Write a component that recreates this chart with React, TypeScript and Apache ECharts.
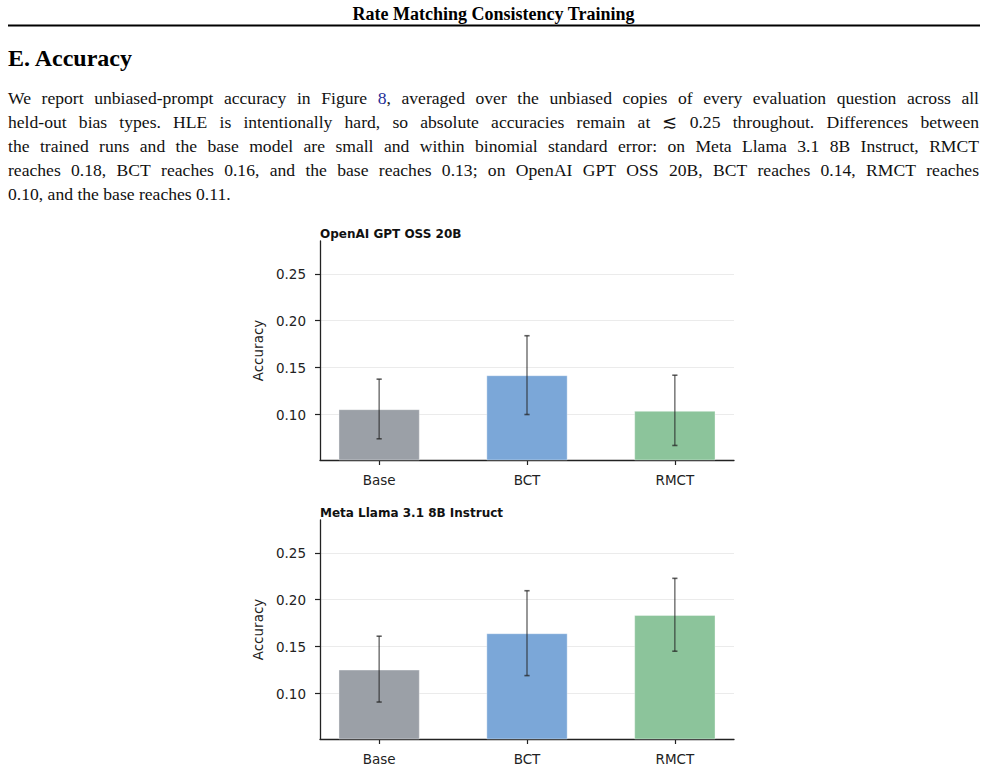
import React, { useEffect, useRef } from "react";
import * as echarts from "echarts";

// ---------- data ----------
const categories = ["Base", "BCT", "RMCT"];
const panelTitles = ["OpenAI GPT OSS 20B", "Meta Llama 3.1 8B Instruct"];
const openaiAcc = [0.1057, 0.1419, 0.1039];
const openaiLow = [0.0741, 0.1, 0.067];
const openaiHigh = [0.1377, 0.184, 0.1419];
const llamaAcc = [0.1255, 0.1643, 0.1837];
const llamaLow = [0.0909, 0.1191, 0.1451];
const llamaHigh = [0.1611, 0.2096, 0.2228];
const yTicks = [0.1, 0.15, 0.2, 0.25];
const xTicks = [0, 1, 2];
const barColors = ["#9ba0a7", "#7ba7d8", "#8cc49b"];

const headerText = "Rate Matching Consistency Training";
const sectionTitle = "E. Accuracy";
const paragraphLines = [
  "We report unbiased-prompt accuracy in Figure 8, averaged over the unbiased copies of every evaluation question across all",
  "held-out bias types. HLE is intentionally hard, so absolute accuracies remain at ≲ 0.25 throughout. Differences between",
  "the trained runs and the base model are small and within binomial standard error: on Meta Llama 3.1 8B Instruct, RMCT",
  "reaches 0.18, BCT reaches 0.16, and the base reaches 0.13; on OpenAI GPT OSS 20B, BCT reaches 0.14, RMCT reaches",
  "0.10, and the base reaches 0.11.",
];

// ---------- layout / style ----------
const W = 987;
const H = 771;
const SERIF = "Liberation Serif";
const SANS = "DejaVu Sans";
const P_SIZE = 17.6;
const P_LEFT = 8;
const P_RIGHT = 979;
const P_TOP = 98;
const P_LINE = 24;
const X_MIN = -0.4;
const X_MAX = 2.4;
const Y_MIN = 0.0515;
const Y_MAX = 0.285;
const GRID_LEFT = 320;
const GRID_W = 414;
const GRID_H = 219;
const GRID_TOPS = [241, 520];
const BAR_FRACTION = 0.55;
const AXIS_COLOR = "#222";
const ERR_COLOR = "rgba(35,35,35,0.72)";

function buildParagraph(): any[] {
  const canvas = document.createElement("canvas");
  const ctx = canvas.getContext("2d") as CanvasRenderingContext2D;
  ctx.font = `${P_SIZE}px "${SERIF}"`;
  const spaceW = ctx.measureText(" ").width;
  const els: any[] = [];
  paragraphLines.forEach((line, i) => {
    const words = line.split(" ");
    const widths = words.map((w) => ctx.measureText(w).width);
    const total = widths.reduce((a, b) => a + b, 0);
    const justify = i < paragraphLines.length - 1 && words.length > 1;
    const gap = justify ? (P_RIGHT - P_LEFT - total) / (words.length - 1) : spaceW;
    let x = P_LEFT;
    const y = P_TOP + i * P_LINE;
    words.forEach((w, j) => {
      const isLink = i === 0 && w === "8,";
      els.push({
        type: "text",
        x,
        y,
        silent: true,
        style: {
          text: isLink ? "{l|8}," : w,
          fill: "#111",
          fontFamily: SERIF,
          fontSize: P_SIZE,
          align: "left",
          verticalAlign: "middle",
          rich: isLink ? { l: { fill: "#1f2f99", color: "#1f2f99", fontFamily: SERIF, fontSize: P_SIZE } } : undefined,
        },
      });
      x += widths[j] + gap;
    });
  });
  return els;
}

function errRender(params: any, api: any) {
  const x = api.value(0);
  const lo = api.coord([x, api.value(1)]);
  const hi = api.coord([x, api.value(2)]);
  const cap = 2.6;
  const style = { stroke: ERR_COLOR, lineWidth: 1.3 };
  return {
    type: "group",
    children: [
      { type: "line", shape: { x1: lo[0], y1: lo[1], x2: hi[0], y2: hi[1] }, style },
      { type: "line", shape: { x1: lo[0] - cap, y1: lo[1], x2: lo[0] + cap, y2: lo[1] }, style: { ...style, lineWidth: 1.6 } },
      { type: "line", shape: { x1: hi[0] - cap, y1: hi[1], x2: hi[0] + cap, y2: hi[1] }, style: { ...style, lineWidth: 1.6 } },
    ],
  };
}

export default function App() {
  const ref = useRef<HTMLDivElement>(null);
  useEffect(() => {
    if (!ref.current) return;
    const chart = echarts.init(ref.current, undefined, { renderer: "svg", width: W, height: H });
    const pxPerUnit = GRID_W / (X_MAX - X_MIN);
    const barWidth = BAR_FRACTION * pxPerUnit;
    const panels = [
      { acc: openaiAcc, low: openaiLow, high: openaiHigh },
      { acc: llamaAcc, low: llamaLow, high: llamaHigh },
    ];
    const grid = GRID_TOPS.map((top) => ({ left: GRID_LEFT, top, width: GRID_W, height: GRID_H }));
    const xAxis = GRID_TOPS.map((_, i) => ({
      type: "value",
      gridIndex: i,
      min: X_MIN,
      max: X_MAX,
      axisLine: { show: true, onZero: false, lineStyle: { color: AXIS_COLOR, width: 1.3 } },
      axisTick: { show: true, customValues: xTicks, length: 5, lineStyle: { color: AXIS_COLOR, width: 1.2 } },
      axisLabel: {
        show: true,
        customValues: xTicks,
        formatter: (v: number) => categories[Math.round(v)] ?? "",
        color: AXIS_COLOR,
        fontFamily: SANS,
        fontSize: 13.5,
        margin: 13,
      },
      splitLine: { show: false },
    }));
    const yAxis = GRID_TOPS.map((_, i) => ({
      type: "value",
      gridIndex: i,
      min: Y_MIN,
      max: Y_MAX,
      name: "Accuracy",
      nameLocation: "middle",
      nameGap: 55,
      nameTextStyle: { color: AXIS_COLOR, fontFamily: SANS, fontSize: 13.5 },
      axisLine: { show: true, onZero: false, lineStyle: { color: AXIS_COLOR, width: 1.3 } },
      axisTick: { show: true, customValues: yTicks, length: 5, lineStyle: { color: AXIS_COLOR, width: 1.2 } },
      axisLabel: {
        show: true,
        customValues: yTicks,
        formatter: (v: number) => v.toFixed(2),
        color: AXIS_COLOR,
        fontFamily: SANS,
        fontSize: 13.5,
        margin: 14,
      },
      splitLine: { show: true, lineStyle: { color: "#ebebeb", width: 1 } },
    }));
    const series: any[] = [];
    panels.forEach((p, i) => {
      series.push({
        type: "bar",
        xAxisIndex: i,
        yAxisIndex: i,
        barWidth,
        clip: true,
        data: p.acc.map((v, k) => ({
          value: [k, v],
          itemStyle: { color: barColors[k], borderColor: "rgba(255,255,255,0.35)", borderWidth: 1 },
        })),
        z: 2,
      });
      series.push({
        type: "custom",
        xAxisIndex: i,
        yAxisIndex: i,
        renderItem: errRender,
        encode: { x: 0, y: [1, 2] },
        data: p.acc.map((_, k) => [k, p.low[k], p.high[k]]),
        z: 5,
      });
    });
    const graphic: any[] = [
      {
        type: "text",
        x: W / 2,
        y: 14,
        style: { text: headerText, fill: "#000", fontFamily: SERIF, fontSize: 18, fontWeight: "bold", align: "center", verticalAlign: "middle" },
      },
      { type: "line", shape: { x1: 8, y1: 25.5, x2: 980, y2: 25.5 }, style: { stroke: "#000", lineWidth: 2 } },
      {
        type: "text",
        x: 8,
        y: 58,
        style: { text: sectionTitle, fill: "#000", fontFamily: SERIF, fontSize: 24, fontWeight: "bold", align: "left", verticalAlign: "middle" },
      },
      ...buildParagraph(),
      ...GRID_TOPS.map((top, i) => ({
        type: "text",
        x: GRID_LEFT,
        y: top - 7,
        style: { text: panelTitles[i], fill: "#111", fontFamily: SANS, fontSize: 12, fontWeight: "bold", align: "left", verticalAlign: "middle" },
      })),
    ];
    chart.setOption({
      animation: false,
      backgroundColor: "#fff",
      grid,
      xAxis,
      yAxis,
      series,
      graphic,
    });
    return () => chart.dispose();
  }, []);
  return <div ref={ref} style={{ position: "fixed", left: 0, top: 0, width: W, height: H, background: "#fff" }} />;
}
